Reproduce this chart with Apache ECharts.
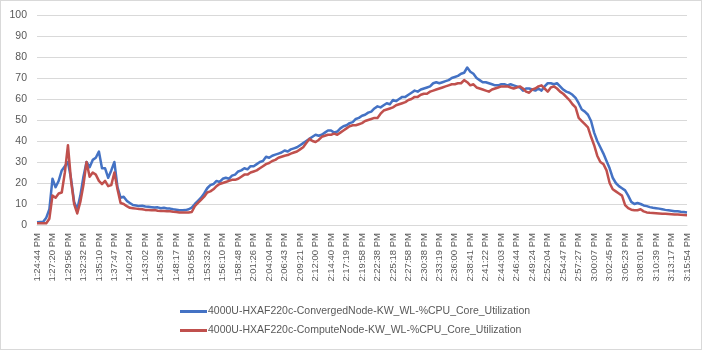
<!DOCTYPE html>
<html>
<head>
<meta charset="utf-8">
<script src="https://cdn.jsdelivr.net/npm/echarts@6/dist/echarts.min.js"></script>
<style>
  html, body { margin: 0; padding: 0; background: #fff; }
  #chart { width: 700px; height: 348px; border: 1px solid #d9d9d9; }
</style>
</head>
<body>
<div id="chart"></div>
<script>
// Time labels printed along the category axis (one every 5 samples)
const tickLabels = [
  '1:24:44 PM','1:27:20 PM','1:29:56 PM','1:32:32 PM','1:35:10 PM','1:37:47 PM','1:40:24 PM',
  '1:43:02 PM','1:45:39 PM','1:48:17 PM','1:50:55 PM','1:53:32 PM','1:56:10 PM','1:58:48 PM',
  '2:01:26 PM','2:04:04 PM','2:06:43 PM','2:09:21 PM','2:12:00 PM','2:14:40 PM','2:17:19 PM',
  '2:19:58 PM','2:22:38 PM','2:25:18 PM','2:27:58 PM','2:30:38 PM','2:33:19 PM','2:36:00 PM',
  '2:38:41 PM','2:41:22 PM','2:44:03 PM','2:46:44 PM','2:49:24 PM','2:52:04 PM','2:54:47 PM',
  '2:57:27 PM','3:00:07 PM','3:02:45 PM','3:05:23 PM','3:08:01 PM','3:10:39 PM','3:13:17 PM',
  '3:15:54 PM'
];
const samplesPerTick = 5;

const yTicks = [0, 10, 20, 30, 40, 50, 60, 70, 80, 90, 100];

const seriesNames = [
  '4000U-HXAF220c-ConvergedNode-KW_WL-%CPU_Core_Utilization',
  '4000U-HXAF220c-ComputeNode-KW_WL-%CPU_Core_Utilization'
];

// %CPU core utilization, converged node
const convergedNode = [
  1.3, 1.4, 1.5, 3.5, 7.5, 22, 18, 21, 26, 28,
  30, 22, 11, 7.5, 14, 23, 30, 27.5, 31, 32,
  35, 27, 27, 22.5, 26, 30, 18, 13, 13.5, 11.5,
  10.5, 9.5, 9.3, 9, 9.2, 8.8, 8.7, 8.5, 8.3, 8.4,
  8, 8.2, 7.9, 7.8, 7.5, 7.3, 7, 7, 7.1, 7.5,
  8.3, 10, 11.5, 13, 15, 17.5, 19, 19.5, 21, 20.5,
  22, 22.5, 22, 23.5, 24, 25.5, 26, 27, 26.5, 28,
  28, 29, 30, 30.5, 32.5, 32, 33, 33.5, 34, 34.5,
  35.5, 35, 36, 36.5, 37, 38, 39, 40, 41, 42,
  43, 42.5, 43, 44, 45, 45, 44, 44.5, 46, 47,
  47.5, 48.5, 49, 50.5, 51, 52, 52.5, 53.5, 54, 55.5,
  56.5, 56, 57, 58, 57.5, 59.5, 59, 60, 61, 61,
  62, 63, 64, 63.5, 64.5, 65, 65.5, 66, 67.5, 68,
  67.5, 68, 68.5, 69, 70, 70.5, 71, 72, 72.5, 75,
  73, 72, 70, 69, 68, 68, 67.5, 67, 66.5, 66.5,
  67, 67, 66.5, 67, 66.5, 66, 65.5, 64, 65, 65,
  64.5, 64, 65, 64, 66, 67.5, 67.5, 67, 67.5, 66,
  64.5, 63.5, 63, 62, 60.5, 58, 55, 54, 52.5, 49.5,
  44, 40, 37, 34, 30.5, 27, 22.5, 20, 18.5, 17.5,
  16.5, 14, 11, 10, 10.5, 10, 9.3, 9, 8.5, 8.2,
  8, 7.8, 7.5, 7.2, 7, 6.8, 6.6, 6.5, 6.3, 6.2,
  6
];

// %CPU core utilization, compute node
const computeNode = [
  0.8, 0.8, 0.8, 0.8, 3, 14, 13, 15, 15.5, 25,
  38, 21, 10, 5.5, 11, 19, 30, 23, 25, 24,
  21, 19.5, 21, 18.5, 19, 25, 17, 10.5, 10, 9,
  8.2, 8, 7.8, 7.6, 7.5, 7.2, 7.1, 7, 7.1, 6.8,
  6.7, 6.7, 6.6, 6.5, 6.3, 6.2, 6, 6, 6, 6,
  6.2, 9, 10.5, 12, 13.5, 15.5, 16, 17, 18.5, 19.5,
  20, 20.5, 21, 21.5, 21.5, 22, 23, 24, 24, 25,
  25.5, 26, 27, 28, 29, 29.5, 30.5, 31, 32, 32.5,
  33, 33.3, 34, 34.5, 35, 36, 37, 39, 41, 40,
  39.5, 40.5, 42, 42.5, 43, 43, 43.5, 43, 44, 45,
  46, 47, 47.5, 47.5, 48, 48.5, 49.5, 50, 50.5, 51,
  51, 53, 54.5, 55, 55.5, 56, 57, 57.5, 58, 58.5,
  59.5, 60, 61, 61, 62, 62.5, 62.5, 63.5, 64, 64.5,
  65, 65.5, 66, 66.5, 67, 67, 67.5, 67.5, 69, 68,
  66.5, 67, 65.5, 65, 64.5, 64, 63.5, 64.5, 65, 65.5,
  66, 66, 66, 65.5, 65, 65.5, 66, 65, 63.5, 63,
  64.5, 65, 66, 66.5, 65, 63.5, 65.5, 66, 65, 63.5,
  62.5, 61, 59.5, 57.5, 56, 51, 49.5, 48, 46.5, 42,
  38, 33, 30, 29, 26, 20, 17, 16, 15, 14,
  9.5, 8, 7.3, 7, 7, 7.5, 6.5, 6, 5.8, 5.7,
  5.6, 5.5, 5.4, 5.3, 5.2, 5.1, 5, 5, 4.9, 4.8,
  4.7
];

// One category per sample; only every fifth one carries a printed time
const categories = convergedNode.map((_, i) =>
  i % samplesPerTick === 0 ? tickLabels[i / samplesPerTick] : '');

const textColor = '#595959';
const gridColor = '#d9d9d9';
const font = 'Liberation Sans, Arial, sans-serif';

const chart = echarts.init(document.getElementById('chart'), null, { renderer: 'canvas' });
chart.setOption({
  animation: false,
  backgroundColor: '#fff',
  grid: { left: 36, right: 14, top: 14, bottom: 124, containLabel: false },
  xAxis: {
    type: 'category',
    data: categories,
    boundaryGap: false,
    axisLine: { show: true, lineStyle: { color: gridColor, width: 1 } },
    axisTick: { show: false },
    splitLine: { show: false },
    axisLabel: {
      interval: 0,
      rotate: 90,
      margin: 8,
      color: textColor,
      fontFamily: font,
      fontSize: 9.5
    }
  },
  yAxis: {
    type: 'value',
    min: yTicks[0],
    max: yTicks[yTicks.length - 1],
    interval: yTicks[1] - yTicks[0],
    axisLine: { show: false },
    axisTick: { show: false },
    splitLine: { show: true, lineStyle: { color: gridColor, width: 1 } },
    axisLabel: { margin: 10, color: textColor, fontFamily: font, fontSize: 10.5 }
  },
  legend: {
    orient: 'vertical',
    left: 174,
    top: 300,
    itemWidth: 27,
    itemHeight: 3,
    itemGap: 8,
    icon: 'rect',
    textStyle: { color: textColor, fontFamily: font, fontSize: 10.5, padding: [0, 0, 0, -4] },
    data: seriesNames
  },
  series: [
    {
      name: seriesNames[0],
      type: 'line',
      data: convergedNode,
      symbol: 'none',
      color: '#4472C4',
      lineStyle: { width: 2.5, color: '#4472C4', join: 'round' }
    },
    {
      name: seriesNames[1],
      type: 'line',
      data: computeNode,
      symbol: 'none',
      color: '#C0504D',
      lineStyle: { width: 2.5, color: '#C0504D', join: 'round' }
    }
  ]
});
</script>
</body>
</html>
